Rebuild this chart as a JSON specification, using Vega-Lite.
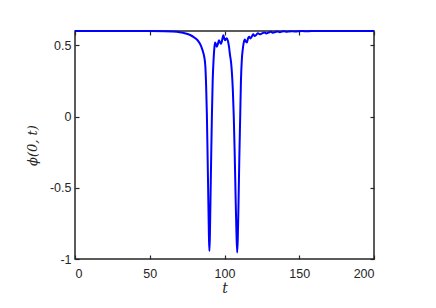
{
  "$schema": "https://vega.github.io/schema/vega-lite/v6.json",
  "autosize": "none",
  "width": 299,
  "height": 228,
  "padding": {"left": 75, "top": 31, "right": 62, "bottom": 49},
  "background": "white",
  "config": {
    "view": {"stroke": "#262626", "strokeWidth": 1.5},
    "axis": {
      "grid": false,
      "domain": false,
      "tickColor": "#262626",
      "tickWidth": 1.2,
      "tickSize": -4,
      "labelColor": "#262626",
      "labelFont": "Liberation Sans",
      "labelFontSize": 12.5,
      "titleColor": "#262626"
    }
  },
  "data": {
    "values": [
      {"t": 0, "phi": 0.6}, {"t": 50, "phi": 0.6}, {"t": 60, "phi": 0.599}, {"t": 65, "phi": 0.597},
      {"t": 70, "phi": 0.592}, {"t": 74, "phi": 0.583}, {"t": 77, "phi": 0.572}, {"t": 80, "phi": 0.553},
      {"t": 82, "phi": 0.535}, {"t": 83.6, "phi": 0.51}, {"t": 85, "phi": 0.475}, {"t": 86, "phi": 0.44},
      {"t": 86.6, "phi": 0.41}, {"t": 87.2, "phi": 0.35}, {"t": 87.7, "phi": 0.22}, {"t": 88.2, "phi": 0.02},
      {"t": 88.7, "phi": -0.28}, {"t": 89.2, "phi": -0.6}, {"t": 89.6, "phi": -0.85}, {"t": 89.9, "phi": -0.944},
      {"t": 90.2, "phi": -0.85}, {"t": 90.6, "phi": -0.6}, {"t": 91.1, "phi": -0.28}, {"t": 91.6, "phi": 0.02},
      {"t": 92.1, "phi": 0.25}, {"t": 92.7, "phi": 0.4}, {"t": 93.3, "phi": 0.49}, {"t": 93.7, "phi": 0.52},
      {"t": 94.3, "phi": 0.505}, {"t": 94.9, "phi": 0.49}, {"t": 95.6, "phi": 0.51}, {"t": 96.3, "phi": 0.535},
      {"t": 97.0, "phi": 0.52}, {"t": 97.7, "phi": 0.51}, {"t": 98.5, "phi": 0.54}, {"t": 99.2, "phi": 0.57},
      {"t": 99.8, "phi": 0.55}, {"t": 100.4, "phi": 0.535}, {"t": 101.0, "phi": 0.545}, {"t": 101.6, "phi": 0.55},
      {"t": 102.3, "phi": 0.53}, {"t": 103.0, "phi": 0.49}, {"t": 103.7, "phi": 0.43}, {"t": 104.4, "phi": 0.38},
      {"t": 105.0, "phi": 0.3}, {"t": 105.6, "phi": 0.18}, {"t": 106.2, "phi": 0.0}, {"t": 106.8, "phi": -0.25},
      {"t": 107.4, "phi": -0.55}, {"t": 108.0, "phi": -0.82}, {"t": 108.5, "phi": -0.955}, {"t": 108.9, "phi": -0.85},
      {"t": 109.4, "phi": -0.6}, {"t": 109.9, "phi": -0.3}, {"t": 110.5, "phi": 0.0}, {"t": 111.0, "phi": 0.25},
      {"t": 111.6, "phi": 0.4}, {"t": 112.2, "phi": 0.47}, {"t": 112.9, "phi": 0.52}, {"t": 113.6, "phi": 0.54},
      {"t": 114.3, "phi": 0.525}, {"t": 115.0, "phi": 0.52}, {"t": 115.8, "phi": 0.55}, {"t": 116.5, "phi": 0.56},
      {"t": 117.3, "phi": 0.548}, {"t": 118.2, "phi": 0.56}, {"t": 119.2, "phi": 0.577}, {"t": 120.2, "phi": 0.565},
      {"t": 121.2, "phi": 0.572}, {"t": 122.4, "phi": 0.584}, {"t": 123.6, "phi": 0.577}, {"t": 125, "phi": 0.583},
      {"t": 126.6, "phi": 0.59}, {"t": 128, "phi": 0.583}, {"t": 129.5, "phi": 0.589}, {"t": 131, "phi": 0.594},
      {"t": 132.5, "phi": 0.588}, {"t": 134, "phi": 0.593}, {"t": 135.5, "phi": 0.597}, {"t": 137, "phi": 0.592},
      {"t": 138.5, "phi": 0.596}, {"t": 140, "phi": 0.598}, {"t": 141.5, "phi": 0.594}, {"t": 143, "phi": 0.597},
      {"t": 145, "phi": 0.599}, {"t": 147, "phi": 0.596}, {"t": 149, "phi": 0.598}, {"t": 152, "phi": 0.6},
      {"t": 155, "phi": 0.598}, {"t": 158, "phi": 0.6}, {"t": 165, "phi": 0.6}, {"t": 200, "phi": 0.6}
    ]
  },
  "resolve": {"axis": {"x": "independent", "y": "independent"}},
  "layer": [
    {
      "mark": {"type": "rule", "opacity": 0},
      "encoding": {
        "x": {"field": "t", "type": "quantitative", "scale": {"domain": [0, 200], "nice": false},
          "axis": {"orient": "top", "values": [0, 50, 100, 150, 200], "labels": false, "title": null}},
        "y": {"field": "phi", "type": "quantitative", "scale": {"domain": [-1, 0.6], "nice": false, "zero": false},
          "axis": {"orient": "right", "values": [-1, -0.5, 0, 0.5], "labels": false, "title": null}}
      }
    },
    {
      "mark": {"type": "line", "color": "#0000ff", "strokeWidth": 2, "interpolate": "monotone", "clip": false},
      "encoding": {
        "x": {"field": "t", "type": "quantitative", "scale": {"domain": [0, 200], "nice": false},
          "axis": {"orient": "bottom", "values": [0, 50, 100, 150, 200], "labelPadding": 12,
            "title": "t", "titleFont": "DejaVu Serif", "titleFontStyle": "italic", "titleFontWeight": "normal",
            "titleFontSize": 14, "titlePadding": 2}},
        "y": {"field": "phi", "type": "quantitative", "scale": {"domain": [-1, 0.6], "nice": false, "zero": false},
          "axis": {"orient": "left", "values": [-1, -0.5, 0, 0.5], "labelExpr": "'' + datum.value", "labelPadding": 8,
            "title": "ϕ(0, t)", "titleFont": "DejaVu Serif", "titleFontStyle": "italic", "titleFontWeight": "normal",
            "titleFontSize": 13, "titlePadding": 10}}
      }
    }
  ]
}
